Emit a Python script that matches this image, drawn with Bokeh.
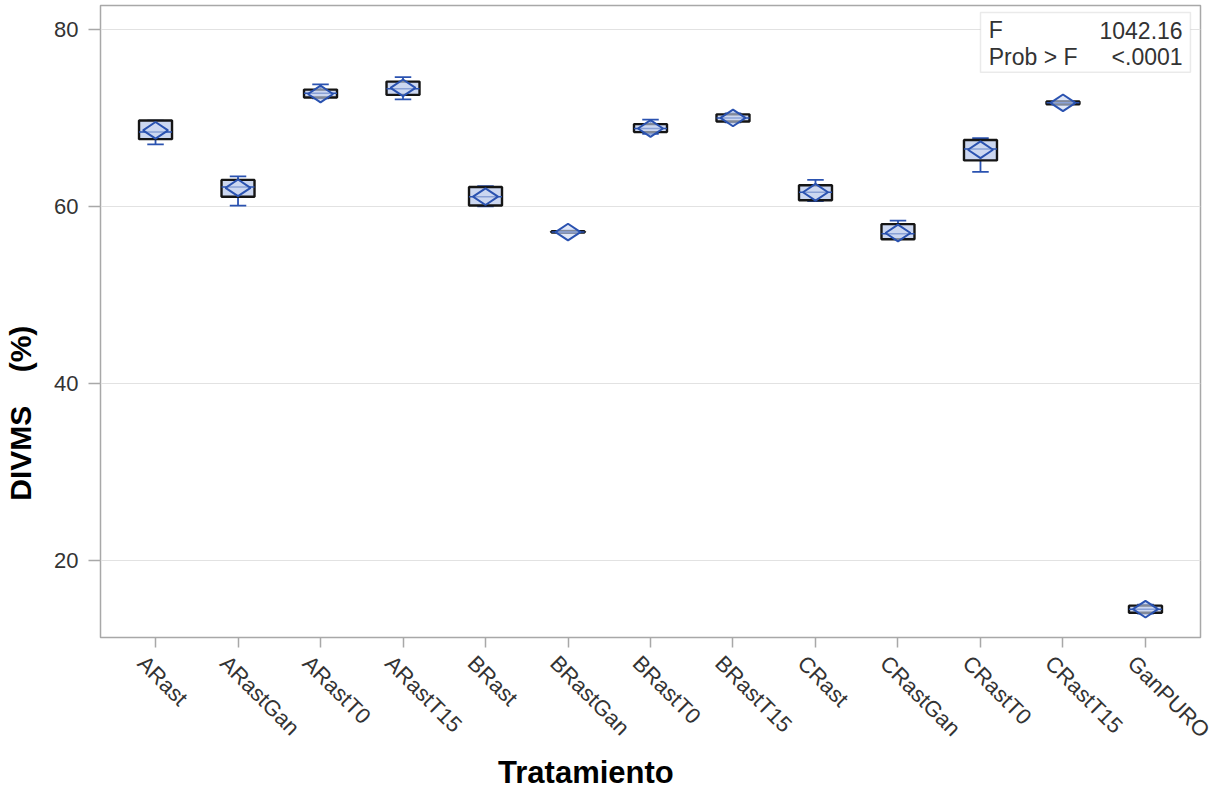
import math
from bokeh.plotting import figure
from bokeh.models import Range1d, FixedTicker, Label, BoxAnnotation, LinearAxis
from bokeh.embed import file_html
from bokeh.resources import INLINE

# Treatments (x categories)
tratamientos = ["ARast", "ARastGan", "ARastT0", "ARastT15", "BRast", "BRastGan",
                "BRastT0", "BRastT15", "CRast", "CRastGan", "CRastT0", "CRastT15",
                "GanPURO"]

# Box-plot statistics of DIVMS (%) per treatment
minimo  = [67.0, 60.1, 72.2, 72.1, 60.0, 57.0, 68.2, 69.5, 60.6, 56.3, 63.9, 71.5, 14.0]
q1      = [67.6, 61.1, 72.3, 72.6, 60.1, 57.05, 68.4, 69.6, 60.7, 56.3, 65.2, 71.55, 14.1]
mediana = [68.4, 62.2, 72.8, 73.3, 61.1, 57.1, 68.8, 70.0, 61.6, 56.9, 66.5, 71.7, 14.5]
q3      = [69.7, 63.0, 73.2, 74.1, 62.2, 57.2, 69.3, 70.4, 62.4, 58.0, 67.5, 71.85, 14.9]
maximo  = [69.7, 63.4, 73.8, 74.6, 62.3, 57.25, 69.8, 70.5, 63.0, 58.4, 67.7, 71.9, 15.0]
media   = [68.6, 62.1, 72.7, 73.4, 61.1, 57.1, 68.8, 70.0, 61.6, 57.0, 66.4, 71.7, 14.5]

y_ticks = [20, 40, 60, 80]

F_value = "1042.16"
p_value = "<.0001"

xs = list(range(len(tratamientos)))

FONT = "Liberation Sans"
BLUE = "#2A52B0"
FILL = "#CCD7F0"
BOX_LINE = "#151515"
FRAME = "#A8A8A8"
TICK_TEXT = "#333333"
NBSP = "\u00a0"

X0, X1 = -0.667, 12.667
LABEL_SHIFT = 0.17   # slanted names start a little left of their tick

p = figure(width=1225, height=792, output_backend="svg", toolbar_location=None,
           x_range=Range1d(X0, X1), y_range=Range1d(11.3, 82.7),
           min_border_left=100, min_border_right=25, min_border_top=5,
           min_border_bottom=154)
p.extra_x_ranges = {"names": Range1d(X0 + LABEL_SHIFT, X1 + LABEL_SHIFT)}

p.background_fill_color = "white"
p.border_fill_color = "white"
p.outline_line_color = FRAME
p.outline_line_width = 1.5

# whiskers and caps
half_cap = 0.1
p.segment(x0=xs, y0=q3, x1=xs, y1=maximo, line_color=BLUE, line_width=1.8)
p.segment(x0=xs, y0=q1, x1=xs, y1=minimo, line_color=BLUE, line_width=1.8)
p.segment(x0=[x - half_cap for x in xs], y0=maximo, x1=[x + half_cap for x in xs], y1=maximo,
          line_color=BLUE, line_width=1.8)
p.segment(x0=[x - half_cap for x in xs], y0=minimo, x1=[x + half_cap for x in xs], y1=minimo,
          line_color=BLUE, line_width=1.8)

# boxes
p.vbar(x=xs, width=0.4, top=q3, bottom=q1, fill_color=FILL, line_color=BOX_LINE, line_width=2.4)

# medians
p.segment(x0=[x - 0.2 for x in xs], y0=mediana, x1=[x + 0.2 for x in xs], y1=mediana,
          line_color=BLUE, line_width=1.5)

# means (flat diamond)
p.scatter(x=xs, y=media, marker="diamond", angle=math.pi / 2, size=25,
          fill_color=FILL, fill_alpha=0.6, line_color=BLUE, line_width=2.0)

# treatment-name axis, stacked under the tick axis
names_axis = LinearAxis(x_range_name="names")
p.add_layout(names_axis, "below")

p.xaxis.ticker = FixedTicker(ticks=xs)
p.yaxis.ticker = FixedTicker(ticks=y_ticks)

for ax in (p.xaxis + p.yaxis):
    ax.axis_line_color = None
    ax.major_tick_line_color = FRAME
    ax.major_tick_line_width = 1.5
    ax.major_tick_in = 0
    ax.minor_tick_line_color = None
    ax.major_label_text_font = FONT
    ax.major_label_text_font_size = "22px"
    ax.major_label_text_color = TICK_TEXT
    ax.axis_label_text_font = FONT
    ax.axis_label_text_font_style = "bold"
    ax.axis_label_text_font_size = "30px"
    ax.axis_label_text_color = "black"

# tick axis: marks only
tick_axis = p.xaxis[0]
tick_axis.major_tick_out = 10
tick_axis.major_label_text_font_size = "0px"
tick_axis.major_label_standoff = 0
tick_axis.major_label_overrides = {i: "" for i in xs}

# names axis: slanted labels and the title (trailing padding moves the title left)
names_axis.major_tick_line_color = None
names_axis.major_tick_out = 0
names_axis.major_label_overrides = {i: t for i, t in enumerate(tratamientos)}
names_axis.major_label_orientation = -math.pi / 4
names_axis.major_label_standoff = 12
names_axis.axis_label = "Tratamiento" + NBSP * 15
names_axis.axis_label_text_font_size = "31px"
names_axis.axis_label_standoff = 0

# y title, padded at its end so it sits lower than the centre
p.yaxis.major_tick_out = 12
p.yaxis.axis_label = "DIVMS" + NBSP * 4 + "(%)" + NBSP * 22
p.yaxis.major_label_standoff = 10
p.yaxis.axis_label_standoff = 14

p.xgrid.grid_line_color = None
p.ygrid.grid_line_color = "#E2E2E2"
p.ygrid.grid_line_width = 1.2

# F statistic inset
p.add_layout(BoxAnnotation(left=10.0, right=12.545, top=81.92, bottom=75.15,
                           fill_color="white", fill_alpha=1.0,
                           line_color="#B8B8B8", line_width=1.5))
for txt, x, y, align in [("F", 10.1, 79.9, "left"), (F_value, 12.45, 79.9, "right"),
                         ("Prob > F", 10.1, 76.85, "left"), (p_value, 12.45, 76.85, "right")]:
    p.add_layout(Label(x=x, y=y, text=txt, text_align=align, text_baseline="middle",
                       text_font=FONT, text_font_size="23px", text_color=TICK_TEXT))

open("out.html", "w").write(file_html(p, INLINE))
